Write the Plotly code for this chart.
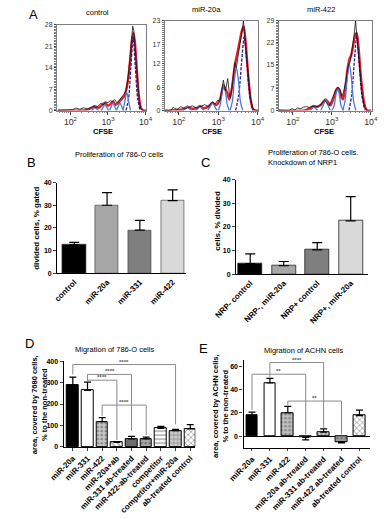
import plotly.graph_objects as go

W, H = 384, 519
FONT = "Liberation Sans, Arial, sans-serif"

# ---------------- Panel A data (log10 CFSE, % of max) ----------------
a_titles = ["control", "miR-20a", "miR-422"]
a_yticks = [[0, 7, 14, 21, 28], [0, 6, 12, 17, 23], [0, 7, 15, 22, 29]]

a1_data_x = [1.66, 1.8, 1.95, 2.05, 2.15, 2.25, 2.35, 2.45, 2.55, 2.62, 2.68, 2.75, 2.82, 2.88, 2.94, 3.0,
             3.06, 3.12, 3.18, 3.24, 3.3, 3.36, 3.42, 3.48, 3.53, 3.58, 3.62, 3.66, 3.69, 3.72, 3.76, 3.8,
             3.84, 3.88, 3.93, 4.0]
a1_data_y = [0, 0, 0.2, 0.3, 0.8, 0.4, 0.9, 0.5, 1.0, 1.4, 0.9, 1.6, 2.4, 1.9, 2.8, 2.6,
             3.2, 2.9, 3.6, 2.5, 3.4, 4.2, 5.2, 6.5, 10, 16, 22, 27.5, 26, 21, 14, 7,
             2.5, 0.6, 0, 0]
a1_fit_x = [1.66, 2.4, 2.55, 2.65, 2.75, 2.84, 2.92, 3.0, 3.06, 3.13, 3.2, 3.27, 3.35, 3.42, 3.48, 3.54,
            3.6, 3.64, 3.68, 3.72, 3.77, 3.82, 3.88, 3.95, 4.02]
a1_fit_y = [0, 0.1, 0.8, 1.4, 0.9, 1.8, 2.6, 1.6, 2.0, 3.0, 1.9, 2.4, 3.6, 4.5, 6.3, 10.5,
            17.5, 23, 25.3, 22, 13, 5, 0.8, 0, 0]
a1_peaks = [
    ([3.48, 3.55, 3.61, 3.67, 3.73, 3.79, 3.86], [0, 4, 14, 24, 14, 4, 0]),
    ([3.40, 3.45, 3.50, 3.55, 3.60], [0, 3, 6, 3, 0]),
    ([3.22, 3.27, 3.32, 3.37, 3.42], [0, 1.2, 2.4, 1.2, 0]),
    ([3.04, 3.09, 3.13, 3.18, 3.23], [0, 1.3, 2.6, 1.3, 0]),
    ([2.82, 2.87, 2.92, 2.97, 3.02], [0, 1, 2, 1, 0]),
    ([2.56, 2.61, 2.65, 2.70, 2.75], [0, 0.5, 1.0, 0.5, 0]),
]

a2_data_x = [1.6, 1.8, 1.85, 1.95, 2.05, 2.15, 2.25, 2.35, 2.45, 2.55, 2.65, 2.75, 2.85, 2.92, 2.98, 3.04,
             3.09, 3.13, 3.18, 3.24, 3.28, 3.31, 3.35, 3.39, 3.42, 3.46, 3.5, 3.55, 3.6, 3.64, 3.68, 3.72,
             3.77, 3.82, 3.88, 3.95, 4.0]
a2_data_y = [0, 0, 0.8, 0.3, 1.0, 0.4, 0.8, 1.2, 0.6, 1.1, 1.5, 1.0, 2.2, 1.6, 2.6, 2.4,
             5.5, 7.8, 5.0, 8.2, 4.5, 3.2, 6, 10, 12.3, 11, 14, 17, 20, 23, 18, 14,
             8, 3, 0.5, 0, 0]
a2_fit_x = [1.6, 1.8, 2.1, 2.21, 2.32, 2.45, 2.53, 2.62, 2.75, 2.85, 2.95, 3.05, 3.13, 3.18, 3.23, 3.28,
            3.35, 3.42, 3.48, 3.54, 3.6, 3.65, 3.7, 3.76, 3.82, 3.88, 3.95, 4.02]
a2_fit_y = [0, 0, 0.3, 1.0, 0.5, 0.6, 1.2, 0.6, 1.0, 2.0, 1.4, 3.0, 6.5, 5.5, 4.5, 2.8,
            6.0, 11.5, 14.5, 17.5, 20.5, 21.5, 17, 9, 3, 0.4, 0, 0]
a2_peaks = [
    ([3.44, 3.52, 3.59, 3.66, 3.73, 3.80, 3.88], [0, 4, 12, 19, 12, 4, 0]),
    ([3.30, 3.36, 3.41, 3.46, 3.51, 3.56, 3.62], [0, 2.5, 8, 11, 8, 2.5, 0]),
    ([3.00, 3.05, 3.10, 3.14, 3.18, 3.23, 3.28], [0, 1.5, 5, 6.5, 5, 1.5, 0]),
    ([2.73, 2.79, 2.85, 2.91, 2.97], [0, 1, 2, 1, 0]),
    ([2.42, 2.48, 2.53, 2.58, 2.64], [0, 0.6, 1.2, 0.6, 0]),
    ([2.10, 2.16, 2.21, 2.26, 2.32], [0, 0.5, 1, 0.5, 0]),
]

a3_data_x = [1.63, 1.9, 1.98, 2.05, 2.12, 2.2, 2.28, 2.35, 2.42, 2.5, 2.58, 2.66, 2.74, 2.82, 2.88, 2.94,
             3.0, 3.06, 3.12, 3.17, 3.22, 3.26, 3.3, 3.36, 3.42, 3.48, 3.53, 3.57, 3.61, 3.64, 3.68, 3.73,
             3.78, 3.84, 3.9, 4.0]
a3_data_y = [0, 0, 0.6, 0.2, 0.8, 0.6, 1.1, 1.3, 1.0, 1.4, 1.2, 1.5, 2.2, 3.3, 2.2, 1.6,
             3.5, 5.6, 7.0, 7.5, 6.4, 4.6, 5.8, 9.5, 14.5, 16, 20, 24, 29, 25, 19, 12,
             5, 1.2, 0, 0]
a3_fit_x = [1.63, 2.3, 2.45, 2.54, 2.62, 2.7, 2.78, 2.84, 2.9, 2.97, 3.05, 3.11, 3.15, 3.2, 3.25, 3.29,
            3.35, 3.4, 3.45, 3.5, 3.55, 3.6, 3.64, 3.69, 3.74, 3.8, 3.86, 3.92, 4.02]
a3_fit_y = [0, 0, 0.8, 1.5, 1.2, 1.6, 2.8, 3.6, 2.8, 1.7, 4.2, 6.6, 7.3, 6.5, 4.3, 3.6,
            7.5, 13, 16.5, 18, 21, 24.5, 25, 20, 12, 5, 1, 0, 0]
a3_peaks = [
    ([3.44, 3.51, 3.58, 3.64, 3.70, 3.77, 3.85], [0, 5, 16, 24, 16, 5, 0]),
    ([3.28, 3.34, 3.40, 3.45, 3.50, 3.56, 3.62], [0, 3, 11, 15, 11, 3, 0]),
    ([3.00, 3.06, 3.11, 3.15, 3.19, 3.24, 3.30], [0, 1.5, 5.5, 7, 5.5, 1.5, 0]),
    ([2.72, 2.78, 2.84, 2.90, 2.96], [0, 1.8, 3.5, 1.8, 0]),
    ([2.44, 2.49, 2.54, 2.59, 2.64], [0, 0.6, 1.2, 0.6, 0]),
]

# ---------------- Panel B ----------------
b_cats = ["control", "miR-20a", "miR-331", "miR-422"]
b_vals = [12.5, 30, 19, 32]
b_err = [1.1, 5.6, 4.3, 4.8]
b_colors = ["#000000", "#a6a6a6", "#7f7f7f", "#d9d9d9"]

# ---------------- Panel C ----------------
c_cats = ["NRP- control", "NRP-, miR-20a", "NRP+ control", "NRP+, miR-20a"]
c_vals = [4.5, 3.7, 10.3, 22.6]
c_err = [4.1, 1.7, 3.1, 10.2]
c_colors = ["#000000", "#a6a6a6", "#7f7f7f", "#d9d9d9"]

# ---------------- Panel D ----------------
d_cats = ["miR-20a", "miR-331", "miR-422", "miR-20a+ab", "miR-331 ab-treated", "miR-422-ab-treated",
          "competitor", "competitor+miR-20a", "ab-treated control"]
d_vals = [287, 264, 118, 21, 37, 37, 87, 76, 84]
d_err = [38, 38, 19, 4, 12, 9, 9, 6, 20]
d_color = ["#000000", "#ffffff", "#c8c8c8", "#ffffff", "#6e6e6e", "#a8a8a8", "#ffffff", "#d0d0d0", "#ffffff"]
d_shape = ["", "", ".", "\\", "", ".", "-", "+", "x"]
d_fg = ["#000000", "#000000", "#555555", "#000000", "#000000", "#555555", "#777777", "#555555", "#777777"]
# brackets: (from, to, bar y, left leg end, right leg end, label)
d_brackets = [(0, 7, 384, 338, 105, "****"), (1, 4, 338, 308, 75, "****"),
              (1, 3, 311, 304, 32, "****"), (2, 5, 195, 145, 55, "****")]

# ---------------- Panel E ----------------
e_cats = ["miR-20a", "miR-331", "miR-422", "miR-20a ab-treated", "miR-331 ab-treated",
          "miR-422 ab-treated", "ab-treated control"]
e_vals = [17.5, 45.5, 20, -1.2, 3.4, -5, 17.5]
e_err = [3, 4, 5.5, 2, 2.7, 0.8, 4.7]
e_color = ["#000000", "#ffffff", "#c0c0c0", "#ffffff", "#d8d8d8", "#a0a0a0", "#ffffff"]
e_shape = ["", "", ".", "\\", ".", ".", "x"]
e_fg = ["#000000", "#000000", "#505050", "#000000", "#707070", "#606060", "#777777"]
e_brackets = [(0, 3, 53, 22, 1.5, "**"), (1, 4, 63, 50.5, 6.5, "****"), (2, 5, 30, 26.5, 1.5, "**")]


def dx(p0, p1):
    return [p0 / W, p1 / W]


def dy(top, bottom):
    return [1 - bottom / H, 1 - top / H]


fig = go.Figure()

# ---- panel A traces ----
a_sets = [(a1_data_x, a1_data_y, a1_fit_x, a1_fit_y, a1_peaks),
          (a2_data_x, a2_data_y, a2_fit_x, a2_fit_y, a2_peaks),
          (a3_data_x, a3_data_y, a3_fit_x, a3_fit_y, a3_peaks)]
for i, (dxs, dys, fxs, fys, peaks) in enumerate(a_sets):
    xa = "x" if i == 0 else f"x{i+1}"
    ya = "y" if i == 0 else f"y{i+1}"
    fig.add_trace(go.Scatter(x=[10 ** v for v in fxs], y=fys, mode="lines",
                             line=dict(color="#e3202a", width=2.4, shape="spline", smoothing=0.6),
                             xaxis=xa, yaxis=ya, showlegend=False, hoverinfo="skip"))
    for j, (px_, py_) in enumerate(peaks):
        col = "#2a1a8a" if j == 0 else "#4a78d8"
        fig.add_trace(go.Scatter(x=[10 ** v for v in px_], y=py_, mode="lines",
                                 line=dict(color=col, width=1.3, dash="3px,1.5px" if j == 0 else "solid",
                                           shape="spline", smoothing=0.8),
                                 xaxis=xa, yaxis=ya, showlegend=False, hoverinfo="skip"))
    fig.add_trace(go.Scatter(x=[10 ** v for v in dxs], y=dys, mode="lines", line=dict(color="#111111", width=0.8),
                             xaxis=xa, yaxis=ya, showlegend=False, hoverinfo="skip"))


def one_sided(vals, errs):
    up = [e if v >= 0 else 0 for v, e in zip(vals, errs)]
    dn = [e if v < 0 else 0 for v, e in zip(vals, errs)]
    return dict(type="data", symmetric=False, array=up, arrayminus=dn, color="#000000", thickness=1.2)


# ---- B ----
eb = one_sided(b_vals, b_err); eb["width"] = 5
fig.add_trace(go.Bar(x=list(range(len(b_cats))), y=b_vals, width=0.71,
                     marker=dict(color=b_colors, line=dict(color="#333333", width=0.6)),
                     error_y=eb, xaxis="x4", yaxis="y4", showlegend=False))
# ---- C ----
ec = one_sided(c_vals, c_err); ec["width"] = 5
fig.add_trace(go.Bar(x=list(range(len(c_cats))), y=c_vals, width=0.72,
                     marker=dict(color=c_colors, line=dict(color="#222222", width=0.8)),
                     error_y=ec, xaxis="x5", yaxis="y5", showlegend=False))
# ---- D ----
ed = one_sided(d_vals, d_err); ed["width"] = 3.5
fig.add_trace(go.Bar(x=list(range(len(d_cats))), y=d_vals, width=0.78,
                     marker=dict(color=d_color, line=dict(color="#000000", width=1),
                                 pattern=dict(shape=d_shape, fgcolor=d_fg, bgcolor=d_color, size=4, solidity=0.35)),
                     error_y=ed, xaxis="x6", yaxis="y6", showlegend=False))
# ---- E ----
ee = one_sided(e_vals, e_err); ee["width"] = 3.5
fig.add_trace(go.Bar(x=list(range(len(e_cats))), y=e_vals, width=0.65,
                     marker=dict(color=e_color, line=dict(color="#000000", width=1),
                                 pattern=dict(shape=e_shape, fgcolor=e_fg, bgcolor=e_color, size=4, solidity=0.35)),
                     error_y=ee, xaxis="x7", yaxis="y7", showlegend=False))

shapes = []
annotations = []


def add_brackets(brs, xr, yr, fs):
    for (a, b, y, l0, l1, lab) in brs:
        line = dict(color="#8a8a8a", width=1)
        shapes.append(dict(type="line", xref=xr, yref=yr, x0=a, x1=b, y0=y, y1=y, line=line))
        shapes.append(dict(type="line", xref=xr, yref=yr, x0=a, x1=a, y0=y, y1=l0, line=line))
        shapes.append(dict(type="line", xref=xr, yref=yr, x0=b, x1=b, y0=y, y1=l1, line=line))
        annotations.append(dict(text="<b>" + lab + "</b>", xref=xr, yref=yr, x=(a + b) / 2, y=y, yanchor="bottom",
                                showarrow=False, font=dict(size=fs, color="#555555", family=FONT), yshift=-2))


add_brackets(d_brackets, "x6", "y6", 6)
add_brackets(e_brackets, "x7", "y7", 6)

layout = dict(width=W, height=H, margin=dict(l=0, r=0, t=0, b=0), paper_bgcolor="white", plot_bgcolor="white",
              font=dict(family=FONT, color="#000000"), showlegend=False, bargap=0)

a_dom_x = [(37.7, 134), (154, 255), (277, 377)]
a_dom_y = [(21, 108), (17, 108), (17, 108)]
for i in range(3):
    sx = "" if i == 0 else str(i + 1)
    layout["xaxis" + sx] = dict(domain=dx(*a_dom_x[i]), type="log", range=[1.64, 4.02], tickmode="linear", tick0=0, dtick=1,
                                exponentformat="power", ticks="outside", ticklen=3,
                                tickfont=dict(size=7, color="#333333"),
                                showline=True, mirror=True, linecolor="#808080", linewidth=1, showgrid=False,
                                zeroline=False, anchor="y" + sx,
                                minor=dict(ticks="outside", ticklen=1.5, tickcolor="#808080", showgrid=False))
    layout["yaxis" + sx] = dict(domain=dy(*a_dom_y[i]), range=[0, a_yticks[i][-1]], tickvals=a_yticks[i],
                                ticks="outside", ticklen=2, tickfont=dict(size=7, color="#333333"), showline=True,
                                mirror=True, linecolor="#808080", linewidth=1, showgrid=False, zeroline=False,
                                anchor="x" + sx,
                                minor=dict(ticks="outside", ticklen=1.5, nticks=20, tickcolor="#808080",
                                           showgrid=False))

bold = dict(weight="bold", color="#000000")
layout["xaxis4"] = dict(domain=dx(38, 177), range=[-0.52, 3.41], tickvals=list(range(4)), ticktext=b_cats,
                        tickangle=-45, tickfont=dict(size=8, **bold), showline=True, linecolor="black",
                        linewidth=1.3, ticks="", showgrid=False, zeroline=False, anchor="y4")
layout["yaxis4"] = dict(domain=dy(181, 273), range=[0, 40], dtick=10, ticks="outside", ticklen=3, tickwidth=1.2,
                        tickfont=dict(size=7, **bold), showline=True, linecolor="black", linewidth=1.3,
                        showgrid=False, zeroline=False, anchor="x4")
layout["xaxis5"] = dict(domain=dx(231, 373), range=[-0.42, 3.51], tickvals=list(range(4)), ticktext=c_cats,
                        tickangle=-45, tickfont=dict(size=8, **bold), showline=True, linecolor="black",
                        linewidth=1.3, ticks="", showgrid=False, zeroline=False, anchor="y5")
layout["yaxis5"] = dict(domain=dy(178, 274), range=[0, 40], dtick=10, ticks="outside", ticklen=3, tickwidth=1.2,
                        tickfont=dict(size=7, **bold), showline=True, linecolor="black", linewidth=1.3,
                        showgrid=False, zeroline=False, anchor="x5")
layout["xaxis6"] = dict(domain=dx(45, 187), range=[-0.62, 8.35], tickvals=list(range(9)), ticktext=d_cats,
                        tickangle=-45, tickfont=dict(size=8, **bold), showline=True, linecolor="black",
                        linewidth=1.3, ticks="outside", ticklen=2.5, showgrid=False, zeroline=False, anchor="y6")
layout["yaxis6"] = dict(domain=dy(362, 449), range=[0, 400], dtick=100, ticks="outside", ticklen=3, tickwidth=1.2,
                        tickfont=dict(size=7, **bold), showline=True, linecolor="black", linewidth=1.3,
                        showgrid=False, zeroline=False, anchor="x6")
layout["xaxis7"] = dict(domain=dx(239, 375), range=[-0.47, 6.57], tickvals=list(range(7)), ticktext=e_cats,
                        tickangle=-45, tickfont=dict(size=8, **bold), showline=True, linecolor="black",
                        linewidth=1.3, ticks="outside", ticklen=2.5, showgrid=False, zeroline=False, anchor="y7")
layout["yaxis7"] = dict(domain=dy(361.1, 449.8), range=[-10, 65], tickvals=[0, 20, 40, 60], ticks="outside",
                        ticklen=3, tickwidth=1.2, tickfont=dict(size=7, **bold), showline=True, linecolor="black",
                        linewidth=1.3, showgrid=False, zeroline=True, zerolinecolor="black", zerolinewidth=1.3,
                        anchor="x7")


def txt(t, x, y, size, bold_=False, angle=0, xanchor="center", yanchor="middle", align="center"):
    f = dict(size=size, family=FONT, color="#000000")
    if bold_:
        f["weight"] = "bold"
    annotations.append(dict(text=t, x=x / W, y=1 - y / H, xref="paper", yref="paper", showarrow=False,
                            font=f, textangle=angle, xanchor=xanchor, yanchor=yanchor, align=align))


# panel letters
txt("A", 12, 11, 13)
txt("B", 10, 161, 13)
txt("C", 198, 161, 13)
txt("D", 8, 344, 13)
txt("E", 196, 349, 13)
# panel A titles and axis labels
txt(a_titles[0], 81, 9, 7.5)
txt(a_titles[1], 199, 6, 7.5)
txt(a_titles[2], 322, 6, 7.5)
for cx in (87, 205, 326):
    txt("CFSE", cx, 129, 7.5, True)
# bar panel titles
txt("Proliferation of 786-O cells", 105, 153, 7.5)
txt("Proliferation of 786-O cells.<br>Knockdown of NRP1", 263, 156, 7.5, xanchor="left", align="left")
txt("Migration of 786-O cells", 100, 350, 7.5)
txt("Migration of ACHN cells", 304, 351, 7.5)
# y titles
txt("divided cells, % gated", 16, 227, 8, True, -90)
txt("cells, % divided", 210, 220, 8, True, -90)
txt("area, covered by 7680 cells,<br>% to the non-treated", 19, 406, 7.5, True, -90)
txt("area, covered by ACHN cells,<br>% to the non-treated", 214, 407, 7.5, True, -90)

layout["shapes"] = shapes
layout["annotations"] = annotations
fig.update_layout(**layout)
fig.write_html("out.html")
